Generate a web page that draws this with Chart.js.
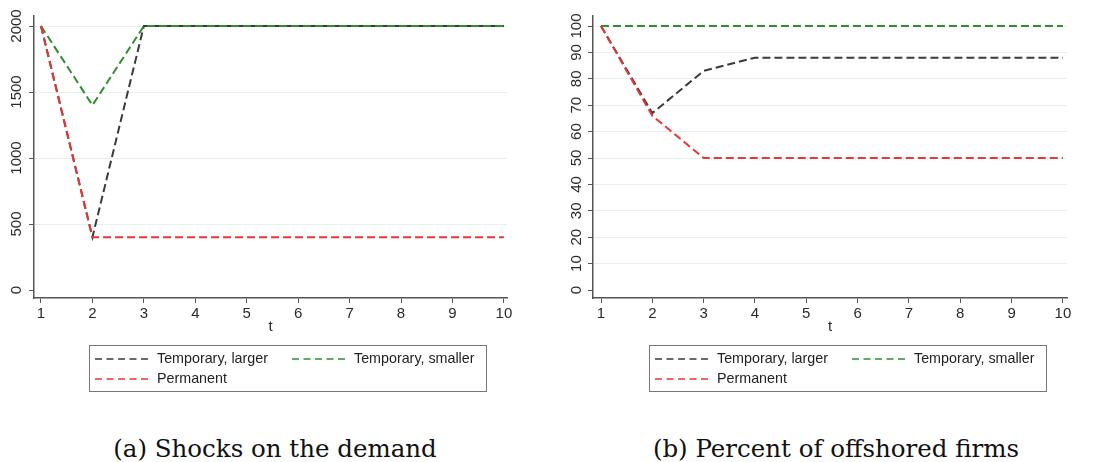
<!DOCTYPE html>
<html>
<head>
<meta charset="utf-8">
<script src="https://cdn.jsdelivr.net/npm/chart.js@4.4.1/dist/chart.umd.min.js"></script>
<style>
  body { margin: 0; background: #fff; width: 1101px; height: 462px; position: relative; overflow: hidden; }
  .panel { position: absolute; top: 0; width: 550px; height: 400px; }
  .cap { position: absolute; top: 434px; font-family: "DejaVu Serif", serif; font-size: 24.5px; color: #111;
         white-space: nowrap; transform: translateX(-50%); }
</style>
</head>
<body>
<div class="panel" style="left:0"><canvas id="graficoDemanda"></canvas></div>
<div class="panel" style="left:550px"><canvas id="graficoFirmas"></canvas></div>
<div class="cap" style="left:275px">(a) Shocks on the demand</div>
<div class="cap" style="left:836px">(b) Percent of offshored firms</div>
<script>
// datos
const periodos = [1, 2, 3, 4, 5, 6, 7, 8, 9, 10]
const etiquetas = ["Temporary, larger", "Temporary, smaller", "Permanent"]

const demandaLarga = [2000, 400, 2000, 2000, 2000, 2000, 2000, 2000, 2000, 2000]
const demandaCorta = [2000, 1400, 2000, 2000, 2000, 2000, 2000, 2000, 2000, 2000]
const demandaPermanente = [2000, 400, 400, 400, 400, 400, 400, 400, 400, 400]
const ticksDemanda = [0, 500, 1000, 1500, 2000]

const firmasLarga = [100, 67, 83, 88, 88, 88, 88, 88, 88, 88]
const firmasCorta = [100, 100, 100, 100, 100, 100, 100, 100, 100, 100]
const firmasPermanente = [100, 66, 50, 50, 50, 50, 50, 50, 50, 50]
const ticksFirmas = [0, 10, 20, 30, 40, 50, 60, 70, 80, 90, 100]

const colores = ["#3a3a3a", "#2f8f2f", "#ec3434"]
// rojo encima, luego verde, negro debajo
const orden = [2, 1, 0]

Chart.defaults.font.family = "'Liberation Sans', Arial, sans-serif"
Chart.defaults.font.size = 15
Chart.defaults.color = "#2a2a2a"

// recuadro de la leyenda al estilo Stata
const cajaLeyenda = {
  id: "cajaLeyenda",
  afterDraw(chart, args, opts) {
    const ctx = chart.ctx
    const x0 = Math.round(chart.chartArea.left + opts.desplazamiento)
    const y0 = 345
    ctx.save()
    ctx.strokeStyle = "#777"
    ctx.lineWidth = 1
    ctx.setLineDash([])
    ctx.strokeRect(x0 + 0.5, y0 + 0.5, 397, 46)
    const pos = [[0, 0], [197, 0], [0, 20]]
    chart.data.datasets.forEach((ds, i) => {
      const dx = pos[i][0]
      const y = y0 + 14 + pos[i][1]
      ctx.strokeStyle = ds.borderColor
      ctx.lineWidth = 1.5
      ctx.setLineDash([7, 4.5])
      ctx.beginPath()
      ctx.moveTo(x0 + 6 + dx, y)
      ctx.lineTo(x0 + 59 + dx, y)
      ctx.stroke()
      ctx.setLineDash([])
      ctx.fillStyle = "#222"
      ctx.font = "14.3px 'Liberation Sans', Arial, sans-serif"
      ctx.textBaseline = "middle"
      ctx.fillText(ds.label, x0 + 68 + dx, y)
    })
    ctx.restore()
  },
}

function serie(valores, i) {
  return {
    label: etiquetas[i],
    data: periodos.map((t, k) => ({ x: t, y: valores[k] })),
    borderColor: colores[i],
    borderWidth: 2,
    borderDash: [8, 4],
    pointRadius: 0,
    tension: 0,
    fill: false,
    order: orden[i],
  }
}

function crearGrafico(id, series, ticksY, yMin, yMax, xMin, xMax, anchoY, padY, padDerecha, despLeyenda) {
  return new Chart(document.getElementById(id), {
    type: "line",
    data: { datasets: series },
    options: {
      responsive: true,
      maintainAspectRatio: false,
      animation: false,
      layout: { padding: { top: 16, left: 0, right: padDerecha, bottom: 64 } },
      plugins: {
        legend: { display: false },
        tooltip: { enabled: false },
        cajaLeyenda: { desplazamiento: despLeyenda },
      },
      scales: {
        x: {
          type: "linear",
          min: xMin,
          max: xMax,
          afterBuildTicks: (s) => { s.ticks = periodos.map((v) => ({ value: v })) },
          afterFit: (s) => { s.height = 38 },
          border: { color: "#555", width: 1.5 },
          grid: { drawOnChartArea: false, tickColor: "#555", tickLength: 5 },
          ticks: { padding: 2, maxRotation: 0, autoSkip: false, callback: (v) => String(v) },
          title: { display: true, text: "t", color: "#2a2a2a", padding: { top: 0, bottom: 0 }, font: { size: 15 } },
        },
        y: {
          min: yMin,
          max: yMax,
          afterBuildTicks: (s) => { s.ticks = ticksY.map((v) => ({ value: v })) },
          afterFit: (s) => { s.width = anchoY },
          border: { color: "#555", width: 1.5 },
          grid: {
            color: (c) => (c.tick && c.tick.value === 0 ? "rgba(0,0,0,0)" : "#e6eff2"),
            tickColor: "#555",
            tickLength: 5,
          },
          ticks: {
            minRotation: 90, maxRotation: 90, crossAlign: "center", padding: padY,
            callback: (v) => String(v),
          },
        },
      },
    },
    plugins: [cajaLeyenda],
  })
}

crearGrafico(
  "graficoDemanda",
  [serie(demandaLarga, 0), serie(demandaCorta, 1), serie(demandaPermanente, 2)],
  ticksDemanda, -60.6, 2075.8, 0.864, 10.06, 34, -5, 43, 55
)

crearGrafico(
  "graficoFirmas",
  [serie(firmasLarga, 0), serie(firmasCorta, 1), serie(firmasPermanente, 2)],
  ticksFirmas, -3.03, 103.8, 0.844, 10.08, 43, -1, 33, 56
)
</script>
</body>
</html>
